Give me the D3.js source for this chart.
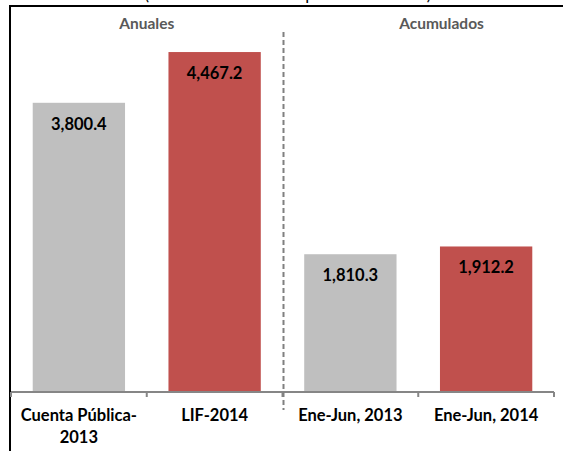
<!DOCTYPE html>
<html>
<head>
<meta charset="utf-8">
<script src="https://cdn.jsdelivr.net/npm/d3@7"></script>
<style>
  body { margin: 0; background: #fff; }
  svg { display: block; font-family: Lato, "Open Sans", sans-serif; }
</style>
</head>
<body>
<div id="chart"></div>
<script>
// datos del gráfico
const categorias = ["Cuenta Pública-2013", "LIF-2014", "Ene-Jun, 2013", "Ene-Jun, 2014"];
const etiquetas = [["Cuenta Pública-", "2013"], ["LIF-2014"], ["Ene-Jun, 2013"], ["Ene-Jun, 2014"]];
const valores = [3800.4, 4467.2, 1810.3, 1912.2];
const colores = ["#bfbfbf", "#c0504d", "#bfbfbf", "#c0504d"];
const secciones = ["Anuales", "Acumulados"];
const titulo = "(Miles de millones de pesos corrientes)";

const width = 563, height = 451;
const baseY = 392;

const svg = d3.select("#chart").append("svg")
    .attr("width", width)
    .attr("height", height);

// escalas
const x = d3.scaleBand()
    .domain(categorias)
    .range([11, 554])
    .paddingInner(0.32)
    .paddingOuter(0.16);

const y = d3.scaleLinear()
    .domain([0, 5000])
    .range([baseY, 11.5]);

// título (cortado arriba, como en el original)
svg.append("text")
    .attr("x", 288)
    .attr("y", -0.5)
    .attr("text-anchor", "middle")
    .style("font-size", "17px")
    .text(titulo);

// marco
svg.append("rect")
    .attr("x", 10)
    .attr("y", 6)
    .attr("width", 600)
    .attr("height", 500)
    .attr("fill", "none")
    .attr("stroke", "#000")
    .attr("stroke-width", 2);

// barras
svg.selectAll(".barra")
    .data(categorias)
    .enter()
    .append("rect")
    .attr("class", "barra")
    .attr("x", d => x(d))
    .attr("y", (d, i) => y(valores[i]))
    .attr("width", x.bandwidth())
    .attr("height", (d, i) => baseY - y(valores[i]))
    .attr("fill", (d, i) => colores[i]);

// valores
svg.selectAll(".valor")
    .data(categorias)
    .enter()
    .append("text")
    .attr("class", "valor")
    .attr("x", d => x(d) + x.bandwidth() / 2)
    .attr("y", (d, i) => y(valores[i]) + 27)
    .attr("text-anchor", "middle")
    .style("font-size", "16.5px")
    .style("font-weight", "bold")
    .attr("fill", "#000")
    .text((d, i) => d3.format(",.1f")(valores[i]));

// eje x
const paso = x.step();
const bordes = d3.range(categorias.length + 1).map(i => x.range()[0] + i * paso);

svg.append("line")
    .attr("x1", x.range()[0])
    .attr("x2", x.range()[1])
    .attr("y1", baseY)
    .attr("y2", baseY)
    .attr("stroke", "#868686")
    .attr("stroke-width", 2);

svg.selectAll(".tick-x")
    .data(bordes)
    .enter()
    .append("line")
    .attr("class", "tick-x")
    .attr("x1", d => d)
    .attr("x2", d => d)
    .attr("y1", baseY)
    .attr("y2", baseY + 5)
    .attr("stroke", "#868686")
    .attr("stroke-width", 2);

// etiquetas de categorías
const etiq = svg.selectAll(".etiqueta")
    .data(categorias)
    .enter()
    .append("text")
    .attr("class", "etiqueta")
    .attr("text-anchor", "middle")
    .style("font-size", "16.5px")
    .style("font-weight", "bold")
    .attr("fill", "#000");

etiq.each(function(d, i) {
    const t = d3.select(this);
    etiquetas[i].forEach((linea, j) => {
        t.append("tspan")
            .attr("x", x(d) + x.bandwidth() / 2)
            .attr("y", 421 + j * 22)
            .text(linea);
    });
});

// línea divisoria punteada
svg.append("line")
    .attr("x1", bordes[2] + 1)
    .attr("x2", bordes[2] + 1)
    .attr("y1", 32)
    .attr("y2", 410)
    .attr("stroke", "#808080")
    .attr("stroke-width", 2)
    .attr("stroke-dasharray", "5,3");

// títulos de sección
svg.selectAll(".seccion")
    .data(secciones)
    .enter()
    .append("text")
    .attr("class", "seccion")
    .attr("x", (d, i) => i === 0 ? (bordes[0] + bordes[2]) / 2 : bordes[2] + 159)
    .attr("y", 29)
    .attr("text-anchor", "middle")
    .style("font-size", "15.5px")
    .style("font-weight", "bold")
    .attr("fill", "#595959")
    .text(d => d);
</script>
</body>
</html>
